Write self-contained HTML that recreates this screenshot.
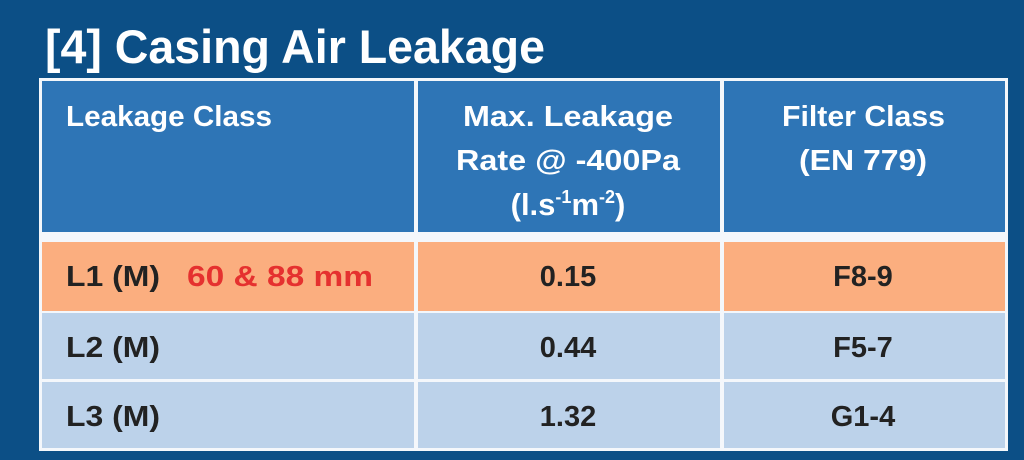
<!DOCTYPE html>
<html><head><style>body{margin:0;background:#0b4f86;}svg{display:block}</style></head><body>
<svg width="1024" height="460" xmlns="http://www.w3.org/2000/svg" font-family="Liberation Sans, sans-serif" font-weight="bold">
<rect width="1024" height="460" fill="#0c4f86"/>
<text x="45" y="63" fill="#fff" font-size="47" textLength="500" lengthAdjust="spacingAndGlyphs">[4]  Casing Air Leakage</text>
<rect x="39" y="78" width="969" height="373" fill="#f4f7fb"/>
<rect x="42" y="81" width="372" height="151" fill="#2e75b6"/>
<rect x="418" y="81" width="302" height="151" fill="#2e75b6"/>
<rect x="724" y="81" width="281" height="151" fill="#2e75b6"/>
<rect x="42" y="242" width="372" height="69" fill="#fbae7f"/>
<rect x="418" y="242" width="302" height="69" fill="#fbae7f"/>
<rect x="724" y="242" width="281" height="69" fill="#fbae7f"/>
<rect x="42" y="313" width="372" height="66" fill="#bcd2ea"/>
<rect x="418" y="313" width="302" height="66" fill="#bcd2ea"/>
<rect x="724" y="313" width="281" height="66" fill="#bcd2ea"/>
<rect x="42" y="382" width="372" height="66" fill="#bcd2ea"/>
<rect x="418" y="382" width="302" height="66" fill="#bcd2ea"/>
<rect x="724" y="382" width="281" height="66" fill="#bcd2ea"/>
<g fill="#fff" font-size="29">
<text x="66" y="126" textLength="206" lengthAdjust="spacingAndGlyphs">Leakage Class</text>
<text x="463" y="126" textLength="210" lengthAdjust="spacingAndGlyphs">Max. Leakage</text>
<text x="456" y="170" textLength="224" lengthAdjust="spacingAndGlyphs">Rate @ -400Pa</text>
<text x="568" y="215" text-anchor="middle" font-size="31">(l.s<tspan font-size="18" dy="-12">-1</tspan><tspan dy="12">m</tspan><tspan font-size="18" dy="-12">-2</tspan><tspan dy="12">)</tspan></text>
<text x="782" y="126" textLength="163" lengthAdjust="spacingAndGlyphs">Filter Class</text>
<text x="799" y="170" textLength="128" lengthAdjust="spacingAndGlyphs">(EN 779)</text>
</g>
<g fill="#222" font-size="29">
<text x="66" y="286" textLength="94" lengthAdjust="spacingAndGlyphs">L1 (M)</text>
<text x="187" y="286" fill="#e5312f" textLength="186" lengthAdjust="spacingAndGlyphs">60 &amp; 88 mm</text>
<text x="568" y="286" text-anchor="middle">0.15</text>
<text x="863" y="286" text-anchor="middle">F8-9</text>
<text x="66" y="357" textLength="94" lengthAdjust="spacingAndGlyphs">L2 (M)</text>
<text x="568" y="357" text-anchor="middle">0.44</text>
<text x="863" y="357" text-anchor="middle">F5-7</text>
<text x="66" y="426" textLength="94" lengthAdjust="spacingAndGlyphs">L3 (M)</text>
<text x="568" y="426" text-anchor="middle">1.32</text>
<text x="863" y="426" text-anchor="middle">G1-4</text>
</g>
</svg>
</body></html>
